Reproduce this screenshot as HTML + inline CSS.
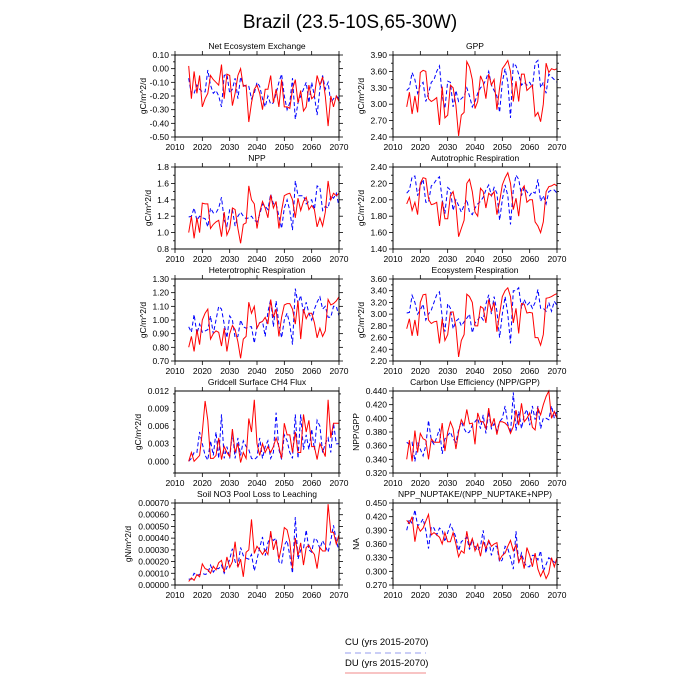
<!DOCTYPE html>
<html><head><meta charset="utf-8"><style>
body{margin:0;background:#fff;}
svg{display:block;font-family:"Liberation Sans",sans-serif;}
</style></head><body>
<svg id="c" width="700" height="700" viewBox="0 0 700 700" xmlns="http://www.w3.org/2000/svg">
<text x="350" y="28" font-size="19" text-anchor="middle">Brazil (23.5-10S,65-30W)</text>
<g>
<text x="345" y="645" font-size="9.5">CU (yrs 2015-2070)</text>
<line x1="345" y1="653" x2="426" y2="653" stroke="#aab0f0" stroke-width="1.2" stroke-dasharray="6,4"/>
<text x="345" y="666" font-size="9.5">DU (yrs 2015-2070)</text>
<line x1="345" y1="673" x2="426" y2="673" stroke="#f4a0a0" stroke-width="1.2"/>
</g>
</svg>
<script>
const years = [];
for (let y = 2015; y <= 2070; y++) years.push(y);
const xTicks = [2010, 2020, 2030, 2040, 2050, 2060, 2070];

const neeDU = [0.02,-0.22,-0.02,-0.18,-0.05,-0.28,-0.22,-0.18,-0.05,-0.08,-0.10,-0.12,0.03,-0.22,-0.04,-0.05,-0.27,-0.18,-0.05,0.00,-0.13,-0.12,-0.39,-0.25,-0.15,-0.12,-0.18,-0.30,-0.15,-0.15,-0.05,-0.25,-0.15,-0.28,-0.08,-0.28,-0.28,-0.29,-0.15,-0.08,-0.25,-0.16,-0.31,-0.28,-0.12,-0.22,-0.20,-0.05,-0.12,-0.06,-0.20,-0.42,-0.20,-0.28,-0.20,-0.24];
const neeCU = [-0.07,-0.19,-0.18,-0.12,-0.15,-0.17,-0.17,-0.01,-0.12,-0.18,-0.16,-0.20,-0.28,-0.05,-0.04,-0.18,-0.15,-0.07,-0.22,-0.06,-0.12,-0.13,-0.13,-0.22,-0.18,-0.10,-0.13,-0.22,-0.28,-0.20,-0.26,-0.25,-0.18,-0.10,-0.04,-0.20,-0.30,-0.25,-0.07,-0.37,-0.25,-0.20,-0.15,-0.10,-0.25,-0.10,-0.20,-0.34,-0.15,-0.05,-0.15,-0.10,-0.25,-0.22,-0.20,-0.22];
const gppDU = [2.95,3.22,2.82,3.15,2.85,3.58,3.62,3.60,3.10,3.05,3.08,3.12,2.62,3.32,2.75,2.80,3.35,3.30,2.98,2.42,2.80,2.85,3.78,3.68,3.45,2.92,3.05,3.52,3.40,3.10,3.55,3.35,3.45,2.90,3.30,3.65,3.72,3.80,3.60,3.05,3.42,3.05,3.55,3.55,3.25,3.30,3.35,2.78,2.85,2.68,3.00,3.75,3.58,3.65,3.63,3.65];
const gppCU = [3.25,3.30,3.58,3.45,3.20,3.35,3.40,3.05,3.20,3.40,3.45,3.60,3.70,3.15,2.92,3.42,3.40,2.95,3.25,3.05,3.10,3.15,3.30,3.15,2.95,3.05,3.20,3.30,3.35,3.45,3.60,3.35,3.25,3.15,2.85,3.40,3.65,3.40,2.75,3.75,3.70,3.55,3.35,3.40,3.35,3.40,3.30,3.75,3.80,3.30,3.40,3.20,3.55,3.50,3.45,3.40];
const nppDU = [1.00,1.20,0.93,1.18,1.00,1.36,1.35,1.35,1.05,1.10,1.13,1.15,0.95,1.25,0.97,1.05,1.30,1.28,1.05,0.87,1.10,1.12,1.57,1.40,1.35,1.05,1.25,1.38,1.30,1.18,1.46,1.30,1.38,1.05,1.27,1.45,1.47,1.48,1.40,1.18,1.42,1.27,1.38,1.43,1.28,1.33,1.28,1.07,1.18,1.08,1.25,1.63,1.40,1.48,1.45,1.48];
const nppCU = [1.19,1.20,1.30,1.15,1.20,1.18,1.17,1.07,1.30,1.24,1.24,1.30,1.43,1.15,1.08,1.28,1.28,1.08,1.20,1.25,1.20,1.17,1.18,1.20,1.15,1.13,1.22,1.35,1.32,1.28,1.47,1.35,1.35,1.20,1.05,1.30,1.40,1.27,1.03,1.63,1.45,1.45,1.45,1.35,1.38,1.40,1.28,1.57,1.55,1.27,1.32,1.30,1.45,1.42,1.48,1.32];
const arDU = [1.95,2.03,1.87,1.97,1.82,2.20,2.27,2.26,2.02,1.94,1.95,1.97,1.68,1.98,1.77,1.77,2.05,2.10,1.93,1.55,1.65,1.75,2.20,2.25,2.10,1.85,1.80,2.14,2.10,1.90,2.08,2.05,2.10,1.82,1.98,2.18,2.27,2.33,2.20,1.88,2.02,1.80,2.12,2.17,1.97,2.00,2.00,1.73,1.68,1.60,1.73,2.10,2.16,2.17,2.19,2.17];
const arCU = [2.08,2.12,2.28,2.29,2.05,2.17,2.25,1.97,1.97,2.17,2.20,2.25,2.28,2.00,1.83,2.15,2.12,1.87,2.00,1.93,1.85,1.93,2.00,1.85,1.82,1.90,1.95,1.98,2.03,2.12,2.18,2.05,2.15,2.08,1.75,2.00,2.18,2.05,1.70,2.12,2.30,2.25,2.05,2.15,2.10,2.05,2.10,2.08,2.25,1.98,2.05,1.95,2.10,2.12,2.12,2.08];
const hrDU = [0.80,0.88,0.77,0.93,0.82,1.00,1.05,1.08,0.86,0.90,0.92,0.91,0.81,0.94,0.77,0.90,0.96,0.93,0.84,0.72,0.86,0.88,1.13,1.05,1.10,0.94,0.98,0.99,1.02,0.97,1.15,1.02,1.08,0.88,1.02,1.11,1.12,1.12,1.08,0.97,1.14,0.86,1.08,1.01,1.05,1.05,0.98,0.87,0.94,0.88,0.92,1.15,1.11,1.12,1.14,1.17];
const hrCU = [0.95,0.91,1.04,0.90,0.97,0.91,0.92,0.93,1.03,0.90,1.00,1.10,1.08,0.97,0.87,1.03,1.00,0.87,0.88,1.00,0.95,0.94,0.95,0.95,0.83,0.96,0.98,0.99,0.88,1.06,1.15,0.95,1.14,0.97,0.87,1.00,1.05,0.97,0.82,1.23,1.12,1.18,1.05,1.13,1.05,1.00,1.08,1.13,1.17,1.08,1.10,1.02,1.02,1.10,1.10,1.03];
const erDU = [2.75,2.92,2.63,2.90,2.63,3.20,3.33,3.34,2.90,2.84,2.87,2.88,2.50,2.92,2.55,2.65,3.03,3.04,2.78,2.27,2.55,2.65,3.34,3.30,3.20,2.80,2.80,3.13,3.10,2.85,3.25,3.05,3.20,2.70,3.00,3.30,3.40,3.45,3.30,2.85,3.10,2.67,3.18,3.17,3.02,3.03,3.02,2.60,2.60,2.47,2.65,3.27,3.28,3.30,3.33,3.35];
const erCU = [3.02,3.03,3.32,3.20,3.00,3.07,3.17,2.90,3.00,3.07,3.20,3.33,3.38,2.95,2.70,3.18,3.10,2.75,2.88,2.92,2.80,2.87,2.93,3.00,2.68,2.85,2.90,2.97,2.90,3.17,3.33,3.00,3.30,3.05,2.60,3.00,3.30,3.00,2.50,3.40,3.40,3.45,3.10,3.25,3.15,3.20,3.10,3.20,3.42,3.10,3.10,3.05,3.20,3.05,3.22,3.15];
const ch4DU = [0.0000,0.0015,0.0000,0.0005,0.0010,0.0050,0.0103,0.0070,0.0005,0.0005,0.0010,0.0040,0.0003,0.0025,0.0015,0.0008,0.0055,0.0015,0.0030,-0.0002,0.0015,0.0005,0.0073,0.0050,0.0105,0.0030,0.0010,0.0030,0.0015,0.0025,0.0015,0.0025,0.0040,0.0025,0.0005,0.0065,0.0045,0.0045,0.0015,0.0050,0.0015,0.0015,0.0080,0.0050,0.0070,0.0025,0.0025,0.0003,0.0030,0.0020,0.0008,0.0105,0.0040,0.0065,0.0065,0.0065];
const ch4CU = [0.0000,0.0005,0.0015,0.0015,0.0050,0.0030,0.0010,0.0002,0.0035,0.0010,0.0050,0.0005,0.0080,0.0005,0.0025,0.0005,0.0050,0.0005,0.0040,0.0010,0.0035,0.0025,0.0020,0.0005,0.0003,0.0007,0.0040,0.0005,0.0025,0.0035,0.0005,0.0015,0.0083,0.0020,0.0003,0.0045,0.0035,0.0015,0.0005,0.0080,0.0005,0.0080,0.0020,0.0045,0.0020,0.0055,0.0020,0.0070,0.0060,0.0015,0.0030,0.0040,0.0015,0.0065,0.0030,0.0030];
const cueDU = [0.340,0.368,0.337,0.382,0.350,0.378,0.370,0.368,0.340,0.370,0.365,0.365,0.365,0.393,0.352,0.380,0.395,0.385,0.355,0.380,0.398,0.390,0.413,0.392,0.393,0.362,0.408,0.395,0.395,0.385,0.415,0.388,0.400,0.376,0.395,0.395,0.393,0.389,0.378,0.388,0.412,0.390,0.422,0.395,0.400,0.408,0.387,0.383,0.415,0.405,0.420,0.432,0.440,0.400,0.410,0.400];
const cueCU = [0.365,0.362,0.365,0.337,0.365,0.355,0.345,0.360,0.397,0.368,0.362,0.372,0.385,0.348,0.370,0.375,0.380,0.370,0.365,0.383,0.395,0.385,0.378,0.380,0.390,0.395,0.400,0.385,0.405,0.378,0.410,0.385,0.392,0.382,0.395,0.400,0.418,0.392,0.378,0.438,0.382,0.410,0.385,0.405,0.413,0.390,0.418,0.398,0.418,0.385,0.400,0.400,0.398,0.418,0.400,0.412];
const no3DU = [0.00003,0.00006,0.00004,0.00009,0.00007,0.00018,0.00014,0.00013,0.00010,0.00016,0.00013,0.00019,0.00021,0.00011,0.00024,0.00015,0.00020,0.00037,0.00015,0.00022,0.00007,0.00028,0.00030,0.00056,0.00027,0.00033,0.00030,0.00026,0.00030,0.00026,0.00046,0.00030,0.00038,0.00022,0.00033,0.00049,0.00047,0.00037,0.00014,0.00040,0.00025,0.00036,0.00017,0.00032,0.00034,0.00029,0.00026,0.00014,0.00032,0.00029,0.00029,0.00069,0.00045,0.00045,0.00035,0.00043];
const no3CU = [0.00005,0.00005,0.00010,0.00008,0.00009,0.00010,0.00009,0.00010,0.00017,0.00011,0.00014,0.00014,0.00017,0.00010,0.00015,0.00022,0.00031,0.00020,0.00016,0.00032,0.00025,0.00023,0.00022,0.00026,0.00012,0.00022,0.00032,0.00041,0.00025,0.00036,0.00042,0.00038,0.00040,0.00020,0.00018,0.00034,0.00038,0.00025,0.00010,0.00058,0.00022,0.00030,0.00031,0.00047,0.00030,0.00028,0.00040,0.00038,0.00031,0.00038,0.00033,0.00028,0.00038,0.00051,0.00038,0.00029];
const naDU = [0.412,0.405,0.420,0.365,0.400,0.388,0.395,0.410,0.425,0.380,0.385,0.380,0.375,0.360,0.385,0.365,0.365,0.385,0.360,0.332,0.345,0.340,0.388,0.355,0.372,0.345,0.360,0.333,0.365,0.350,0.368,0.355,0.360,0.363,0.325,0.335,0.340,0.355,0.368,0.345,0.358,0.320,0.333,0.306,0.352,0.335,0.310,0.340,0.305,0.289,0.302,0.284,0.296,0.330,0.310,0.330];
const naCU = [0.390,0.415,0.405,0.435,0.400,0.405,0.415,0.390,0.350,0.398,0.395,0.380,0.395,0.390,0.365,0.385,0.403,0.390,0.375,0.345,0.365,0.370,0.375,0.348,0.370,0.355,0.345,0.355,0.390,0.340,0.370,0.335,0.355,0.355,0.320,0.325,0.355,0.350,0.330,0.305,0.388,0.318,0.340,0.320,0.310,0.310,0.335,0.335,0.325,0.345,0.300,0.315,0.330,0.325,0.320,0.320];

const panels = [
 {name:'net-ecosystem-exchange', title:'Net Ecosystem Exchange', ylab:'gC/m^2/d', ylx:29, col:0, row:0, min:-0.5, max:0.1, step:0.1, dec:2, du:neeDU, cu:neeCU},
 {name:'gpp', title:'GPP', ylab:'gC/m^2/d', ylx:29, col:1, row:0, min:2.4, max:3.9, step:0.3, dec:2, du:gppDU, cu:gppCU},
 {name:'npp', title:'NPP', ylab:'gC/m^2/d', ylx:24, col:0, row:1, min:0.8, max:1.8, step:0.2, dec:1, du:nppDU, cu:nppCU},
 {name:'autotrophic-respiration', title:'Autotrophic Respiration', ylab:'gC/m^2/d', ylx:29, col:1, row:1, min:1.4, max:2.4, step:0.2, dec:2, du:arDU, cu:arCU},
 {name:'heterotrophic-respiration', title:'Heterotrophic Respiration', ylab:'gC/m^2/d', ylx:29, col:0, row:2, min:0.7, max:1.3, step:0.1, dec:2, du:hrDU, cu:hrCU},
 {name:'ecosystem-respiration', title:'Ecosystem Respiration', ylab:'gC/m^2/d', ylx:29, col:1, row:2, min:2.2, max:3.6, step:0.2, dec:2, du:erDU, cu:erCU},
 {name:'ch4-flux', title:'Gridcell Surface CH4 Flux', ylab:'gC/m^2/d', ylx:34, col:0, row:3, min:-0.002, max:0.012, step:0.003, tick0:0, dec:3, du:ch4DU, cu:ch4CU},
 {name:'carbon-use-efficiency', title:'Carbon Use Efficiency (NPP/GPP)', ylab:'NPP/GPP', ylx:34, col:1, row:3, min:0.32, max:0.44, step:0.02, dec:3, du:cueDU, cu:cueCU},
 {name:'soil-no3-leaching', title:'Soil NO3 Pool Loss to Leaching', ylab:'gN/m^2/d', ylx:44, col:0, row:4, min:0, max:0.0007, step:0.0001, dec:5, du:no3DU, cu:no3CU},
 {name:'npp-nuptake-ratio', title:'NPP_NUPTAKE/(NPP_NUPTAKE+NPP)', ylab:'NA', ylx:34, col:1, row:4, min:0.27, max:0.45, step:0.03, dec:3, du:naDU, cu:naCU}
];

const svg = document.getElementById('c');
const NS = 'http://www.w3.org/2000/svg';
function mk(tag, attrs, parent){
  const e = document.createElementNS(NS, tag);
  for (const k in attrs) e.setAttribute(k, attrs[k]);
  parent.appendChild(e);
  return e;
}
const colX = [175, 393], rowY = [55, 167, 279, 391, 503];
const W = 164, H = 82;

panels.forEach(p => {
  const x0 = colX[p.col], y0 = rowY[p.row];
  const xs = v => x0 + (v - 2010) / 60 * W;
  const ys = v => y0 + H - (v - p.min) / (p.max - p.min) * H;
  const g = mk('g', {}, svg);
  
  
  const t = mk('text', {x: x0 + W/2, y: y0 - 6, 'font-size': 8.5, 'text-anchor': 'middle'}, g);
  t.textContent = p.title;
  
  
  const yl = mk('text', {x: 0, y: 0, 'font-size': 8.5, 'text-anchor': 'middle', transform: 'translate(' + (x0 - p.ylx) + ',' + (y0 + H/2) + ') rotate(-90)'}, g);
  yl.textContent = p.ylab;
  
  
  xTicks.forEach(yr => {
    const xx = xs(yr);
    mk('line', {x1: xx, y1: y0 + H, x2: xx, y2: y0 + H + 4, stroke: '#000', 'stroke-width': 0.8}, g);
    mk('line', {x1: xx, y1: y0, x2: xx, y2: y0 - 4, stroke: '#000', 'stroke-width': 0.8}, g);
    const tl = mk('text', {x: xx, y: y0 + H + 13, 'font-size': 8.5, 'text-anchor': 'middle'}, g);
    tl.textContent = yr;
    
    
  });
  const start = (p.tick0 !== undefined) ? p.tick0 : p.min;
  const mstep = p.step / 2;
  const nMin = Math.round((p.max - p.min) / mstep);
  for (let i = 0; i <= nMin; i++) {
    const v = p.min + i * mstep;
    const rel = (v - start) / p.step;
    const major = Math.abs(rel - Math.round(rel)) < 1e-6;
    const L = major ? 4 : 2;
    const yy = ys(v);
    mk('line', {x1: x0, y1: yy, x2: x0 - L, y2: yy, stroke: '#000', 'stroke-width': 0.8}, g);
    mk('line', {x1: x0 + W, y1: yy, x2: x0 + W + L, y2: yy, stroke: '#000', 'stroke-width': 0.8}, g);
  }
  for (let v = start; v <= p.max + 1e-9; v += p.step) {
    const tl = mk('text', {x: x0 - 6, y: ys(v) + 3, 'font-size': 8.5, 'text-anchor': 'end'}, g);
    let s = v.toFixed(p.dec);
    if (/^-0\.0+$/.test(s)) s = s.slice(1);
    tl.textContent = s;
    
    
  }
  const ptsCU = p.cu.map((v, i) => xs(years[i]).toFixed(1) + ',' + ys(v).toFixed(1)).join(' ');
  const ptsDU = p.du.map((v, i) => xs(years[i]).toFixed(1) + ',' + ys(v).toFixed(1)).join(' ');
  const lc = mk('polyline', {points: ptsCU, fill: 'none', stroke: '#0000ff', 'stroke-width': 1, 'stroke-dasharray': '4,2.5'}, g);
  
  
  const ld = mk('polyline', {points: ptsDU, fill: 'none', stroke: '#ff0000', 'stroke-width': 1}, g);
  
  
  const fr = mk('rect', {x: x0, y: y0, width: W, height: H, fill: 'none', stroke: '#000', 'stroke-width': 1}, g);
  
  
});
</script>
</body></html>
